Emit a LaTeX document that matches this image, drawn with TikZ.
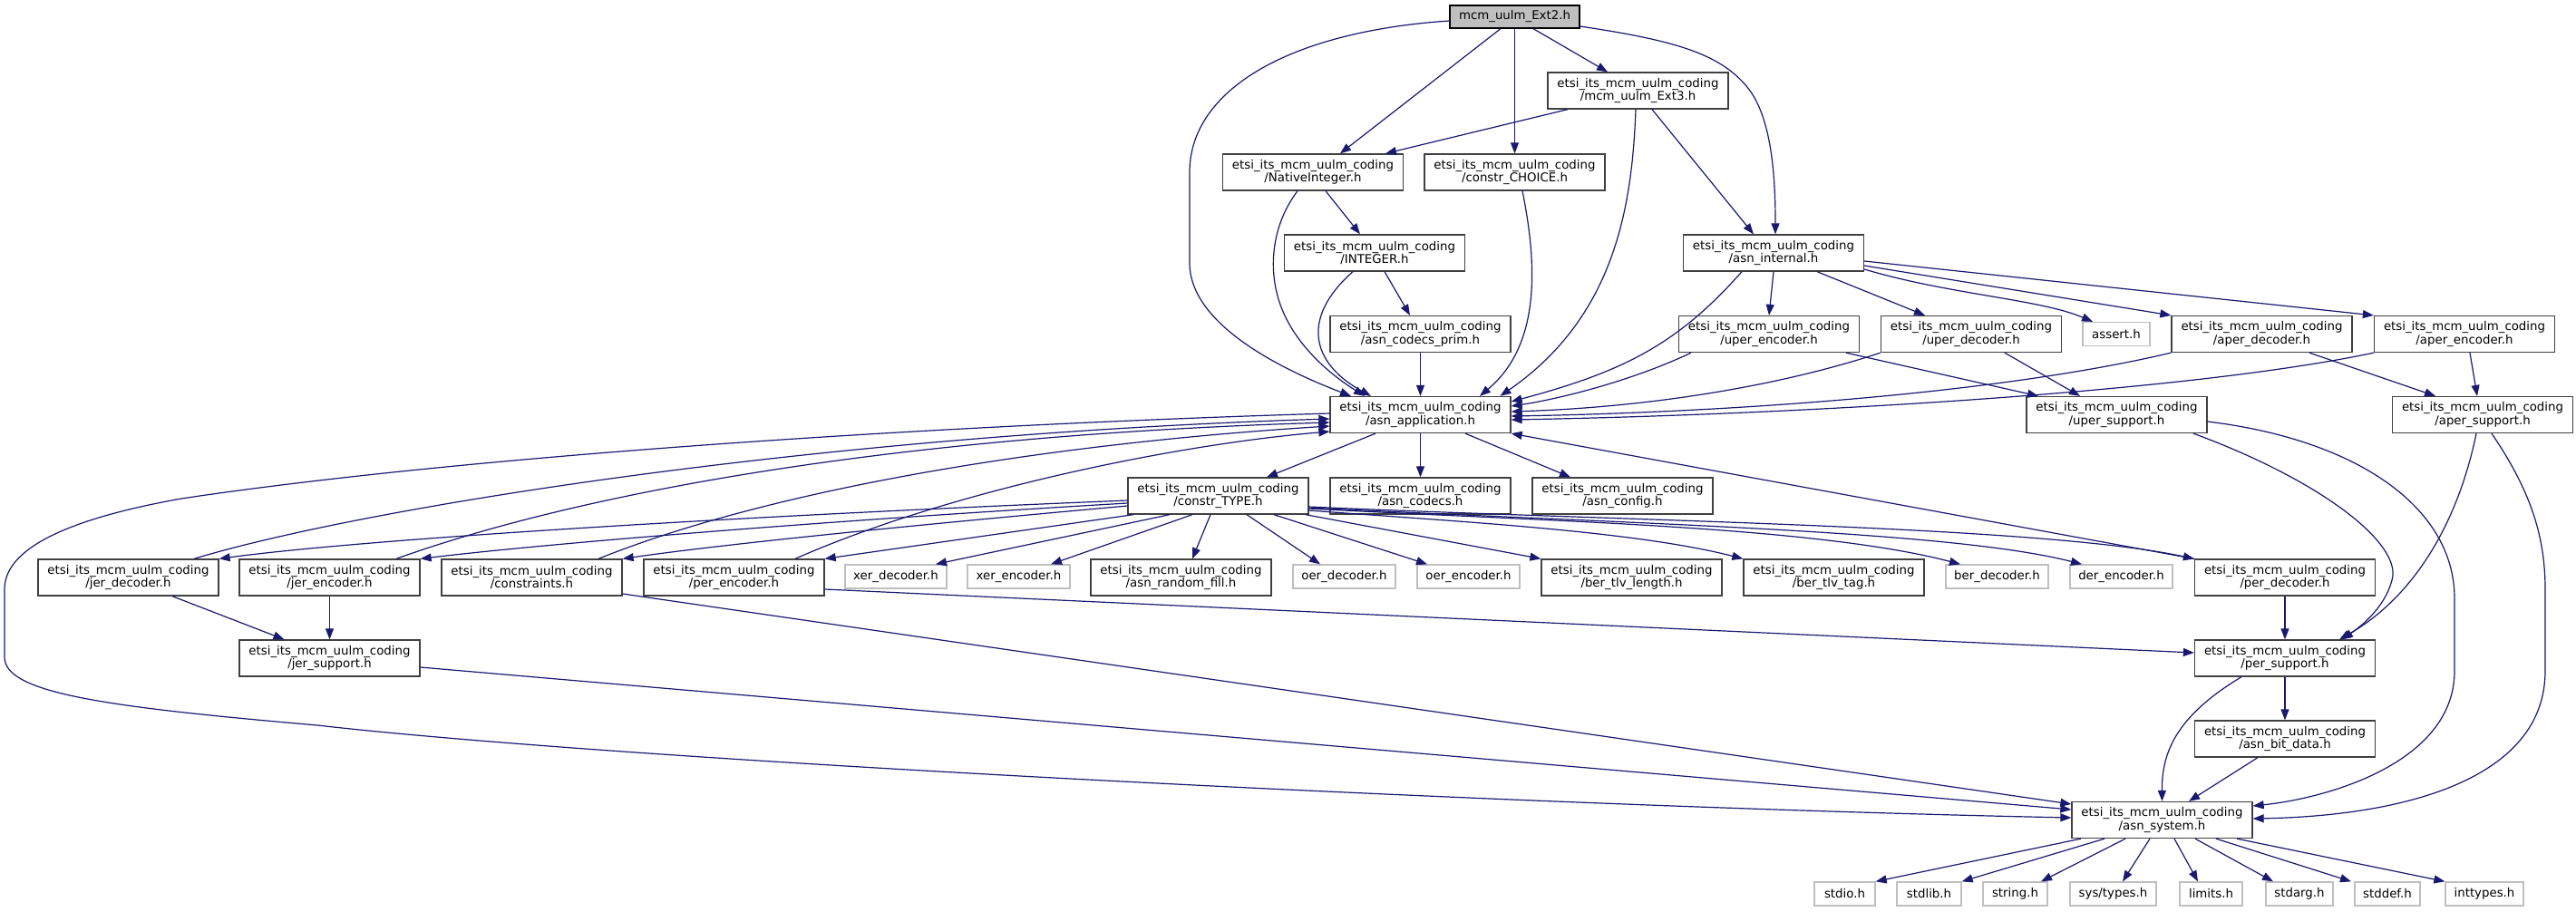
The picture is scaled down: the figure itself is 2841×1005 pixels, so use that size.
\documentclass[tikz,border=0pt]{standalone}
\usepackage{fontspec}
\setmainfont{DejaVu Sans}
\usetikzlibrary{arrows.meta}
\definecolor{edgec}{RGB}{25,25,112}
\definecolor{boxc}{RGB}{64,64,64}
\definecolor{lightc}{RGB}{191,191,191}
\begin{document}
\begin{tikzpicture}[x=1pt,y=-1pt,
  base/.style={rectangle, inner sep=0pt, align=center, font=\fontsize{13.33}{14.6}\selectfont, text=black},
  hbox/.style={base, draw=boxc, line width=1.3pt, minimum width=199pt, minimum height=40pt},
  sbox/.style={base, draw=lightc, line width=1.3pt, minimum height=26pt},
  rootbox/.style={base, draw=black, fill=lightc, line width=1.3pt, minimum width=143pt, minimum height=25pt},
  conn/.style={draw=edgec, line width=1.2pt, -{Triangle[length=12pt,width=9pt]}}]
\useasboundingbox (0,0) rectangle (2841,1005);
\fill[white] (0,0) rectangle (2841,1005);

% nodes
\node[rootbox] (ext2) at (1670.5,18.5) {mcm\_uulm\_Ext2.h};
\node[hbox] (ext3) at (1806.5,100) {etsi\_its\_mcm\_uulm\_coding\\/mcm\_uulm\_Ext3.h};
\node[hbox] (nint) at (1448,190) {etsi\_its\_mcm\_uulm\_coding\\/NativeInteger.h};
\node[hbox] (choice) at (1670.5,190) {etsi\_its\_mcm\_uulm\_coding\\/constr\_CHOICE.h};
\node[hbox] (integer) at (1516,279) {etsi\_its\_mcm\_uulm\_coding\\/INTEGER.h};
\node[hbox] (asninternal) at (1956,279) {etsi\_its\_mcm\_uulm\_coding\\/asn\_internal.h};
\node[hbox] (codecsprim) at (1566.5,368.5) {etsi\_its\_mcm\_uulm\_coding\\/asn\_codecs\_prim.h};
\node[hbox] (uperenc) at (1951,368.5) {etsi\_its\_mcm\_uulm\_coding\\/uper\_encoder.h};
\node[hbox] (uperdec) at (2174,368.5) {etsi\_its\_mcm\_uulm\_coding\\/uper\_decoder.h};
\node[sbox,minimum width=74pt] (assert) at (2334,368.5) {assert.h};
\node[hbox] (aperdec) at (2494.5,368.5) {etsi\_its\_mcm\_uulm\_coding\\/aper\_decoder.h};
\node[hbox] (aperenc) at (2718,368.5) {etsi\_its\_mcm\_uulm\_coding\\/aper\_encoder.h};
\node[hbox] (asnapp) at (1566.5,457.5) {etsi\_its\_mcm\_uulm\_coding\\/asn\_application.h};
\node[hbox] (upersup) at (2334.5,457.5) {etsi\_its\_mcm\_uulm\_coding\\/uper\_support.h};
\node[hbox] (apersup) at (2738,457.5) {etsi\_its\_mcm\_uulm\_coding\\/aper\_support.h};
\node[hbox] (constrtype) at (1343.5,547) {etsi\_its\_mcm\_uulm\_coding\\/constr\_TYPE.h};
\node[hbox] (asncodecs) at (1566.5,547) {etsi\_its\_mcm\_uulm\_coding\\/asn\_codecs.h};
\node[hbox] (asnconfig) at (1789.5,547) {etsi\_its\_mcm\_uulm\_coding\\/asn\_config.h};
\node[hbox] (jerdec) at (141.5,637) {etsi\_its\_mcm\_uulm\_coding\\/jer\_decoder.h};
\node[hbox] (jerenc) at (363.5,637) {etsi\_its\_mcm\_uulm\_coding\\/jer\_encoder.h};
\node[hbox] (constraints) at (586.5,637) {etsi\_its\_mcm\_uulm\_coding\\/constraints.h};
\node[hbox] (perenc) at (809.5,637) {etsi\_its\_mcm\_uulm\_coding\\/per\_encoder.h};
\node[sbox,minimum width=112pt] (xerdec) at (988,636) {xer\_decoder.h};
\node[sbox,minimum width=113pt] (xerenc) at (1123.5,636) {xer\_encoder.h};
\node[hbox] (randomfill) at (1302.5,637) {etsi\_its\_mcm\_uulm\_coding\\/asn\_random\_fill.h};
\node[sbox,minimum width=113pt] (oerdec) at (1482.5,636) {oer\_decoder.h};
\node[sbox,minimum width=113pt] (oerenc) at (1619.5,636) {oer\_encoder.h};
\node[hbox] (bertlvlen) at (1799.5,637) {etsi\_its\_mcm\_uulm\_coding\\/ber\_tlv\_length.h};
\node[hbox] (bertlvtag) at (2022.5,637) {etsi\_its\_mcm\_uulm\_coding\\/ber\_tlv\_tag.h};
\node[sbox,minimum width=113pt] (berdec) at (2202.5,636) {ber\_decoder.h};
\node[sbox,minimum width=113pt] (derenc) at (2339.5,636) {der\_encoder.h};
\node[hbox] (perdec) at (2520,637) {etsi\_its\_mcm\_uulm\_coding\\/per\_decoder.h};
\node[hbox] (jersup) at (363.5,726) {etsi\_its\_mcm\_uulm\_coding\\/jer\_support.h};
\node[hbox] (persup) at (2520,726) {etsi\_its\_mcm\_uulm\_coding\\/per\_support.h};
\node[hbox] (bitdata) at (2520,815) {etsi\_its\_mcm\_uulm\_coding\\/asn\_bit\_data.h};
\node[hbox] (asnsystem) at (2384.5,904.5) {etsi\_its\_mcm\_uulm\_coding\\/asn\_system.h};
\node[sbox,minimum width=67pt] (stdio) at (2034.5,986) {stdio.h};
\node[sbox,minimum width=71pt] (stdlib) at (2127.5,986) {stdlib.h};
\node[sbox,minimum width=71pt] (string) at (2222.5,986) {string.h};
\node[sbox,minimum width=95pt] (systypes) at (2330.5,986) {sys/types.h};
\node[sbox,minimum width=69pt] (limits) at (2438.5,986) {limits.h};
\node[sbox,minimum width=74pt] (stdarg) at (2536,986) {stdarg.h};
\node[sbox,minimum width=72pt] (stddef) at (2633,986) {stddef.h};
\node[sbox,minimum width=86pt] (inttypes) at (2740,986) {inttypes.h};

% Ext2
\draw[conn] ([yshift=-4.5pt]ext2.west) .. controls (1420,35) and (1312,100) .. (1312,190) -- (1312,290) .. controls (1312,360) and (1420,410) .. ([xshift=-76.5pt]asnapp.north);
\draw[conn] ([xshift=-15.5pt]ext2.south) -- ([xshift=30pt]nint.north);
\draw[conn] (ext2.south) -- (choice.north);
\draw[conn] ([xshift=20.5pt]ext2.south) -- ([xshift=-33.5pt]ext3.north);
\draw[conn] ([yshift=-10.5pt]ext2.east) .. controls (1850,45) and (1900,60) .. (1930,100) .. controls (1955,135) and (1958,200) .. ([xshift=2pt]asninternal.north);
% Ext3
\draw[conn] ([xshift=-77.5pt]ext3.south) -- ([xshift=80pt]nint.north);
\draw[conn] ([xshift=-2.5pt]ext3.south) .. controls (1800,230) and (1780,350) .. ([xshift=88pt]asnapp.north);
\draw[conn] ([xshift=15.5pt]ext3.south) -- ([xshift=-22pt]asninternal.north);
% NativeInteger
\draw[conn] ([xshift=14pt]nint.south) -- ([xshift=-16pt]integer.north);
\draw[conn] ([xshift=-17pt]nint.south) .. controls (1405,245) and (1398,290) .. (1410,330) .. controls (1425,380) and (1470,415) .. ([xshift=-61.5pt]asnapp.north);
% INTEGER
\draw[conn] ([xshift=11pt]integer.south) -- ([xshift=-11.5pt]codecsprim.north);
\draw[conn] ([xshift=-24pt]integer.south) .. controls (1435,350) and (1445,400) .. ([xshift=-54.5pt]asnapp.north);
% constr_CHOICE
\draw[conn] ([xshift=8.5pt]choice.south) .. controls (1695,290) and (1700,380) .. ([xshift=65.5pt]asnapp.north);
% asn_codecs_prim
\draw[conn] (codecsprim.south) -- (asnapp.north);
% asn_internal
\draw[conn] ([xshift=-35pt]asninternal.south) .. controls (1850,380) and (1790,410) .. ([yshift=14.5pt]asnapp.east);
\draw[conn] (asninternal.south) -- (uperenc.north);
\draw[conn] ([xshift=48pt]asninternal.south) -- ([xshift=-51pt]uperdec.north);
\draw[conn] ([yshift=-18pt]asninternal.east) .. controls (2150,325) and (2250,330) .. ([xshift=-26pt]assert.north);
\draw[conn] ([yshift=-14pt]asninternal.east) -- (aperdec.north west);
\draw[conn] ([yshift=-9pt]asninternal.east) -- (aperenc.north west);
% uper
\draw[conn] ([xshift=-86pt]uperenc.south) .. controls (1800,420) and (1720,440) .. ([yshift=9.5pt]asnapp.east);
\draw[conn] ([xshift=85pt]uperenc.south) -- ([xshift=-86.5pt]upersup.north);
\draw[conn] (uperdec.south west) .. controls (1950,430) and (1800,450) .. ([yshift=3.5pt]asnapp.east);
\draw[conn] ([xshift=37pt]uperdec.south) -- ([xshift=-40.5pt]upersup.north);
% aper
\draw[conn] (aperdec.south west) .. controls (2200,435) and (1900,455) .. ([yshift=-1.5pt]asnapp.east);
\draw[conn] ([xshift=52.5pt]aperdec.south) -- ([xshift=-52pt]apersup.north);
\draw[conn] (aperenc.south west) .. controls (2400,435) and (1950,458) .. ([yshift=-5.5pt]asnapp.east);
\draw[conn] ([xshift=6pt]aperenc.south) -- ([xshift=-6pt]apersup.north);
% asn_application
\draw[conn] ([xshift=-49.5pt]asnapp.south) -- ([xshift=53.5pt]constrtype.north);
\draw[conn] (asnapp.south) -- (asncodecs.north);
\draw[conn] ([xshift=49.5pt]asnapp.south) -- ([xshift=-57.5pt]asnconfig.north);
\draw[conn] ([yshift=1.5pt]asnapp.west) .. controls (1000,470) and (500,505) .. (200,550) .. controls (60,575) and (5,610) .. (5,650) -- (5,725) .. controls (5,765) and (120,780) .. (350,800) .. controls (700,840) and (1700,890) .. ([yshift=2.5pt]asnsystem.west);
% jer / constraints / per_encoder
\draw[conn] ([xshift=72.5pt]jerdec.north) .. controls (400,560) and (900,480) .. ([yshift=-4.5pt]asnapp.west);
\draw[conn] ([xshift=48.5pt]jerdec.south) -- ([xshift=-50pt]jersup.north);
\draw[conn] ([xshift=73.5pt]jerenc.north) .. controls (650,540) and (1000,480) .. ([yshift=-8.5pt]asnapp.west);
\draw[conn] (jerenc.south) -- (jersup.north);
\draw[conn] ([xshift=73.5pt]constraints.north) .. controls (850,540) and (1150,490) .. ([yshift=-12.5pt]asnapp.west);
\draw[conn] ([yshift=-18pt]constraints.east) -- ([yshift=17.5pt]asnsystem.west);
\draw[conn] ([xshift=67.5pt]perenc.north) .. controls (1050,540) and (1300,490) .. ([yshift=-18.5pt]asnapp.west);
\draw[conn] ([yshift=-13pt]perenc.east) -- ([yshift=6pt]persup.west);
\draw[conn] ([yshift=-10pt]jersup.east) -- ([yshift=11.5pt]asnsystem.west);
% constr_TYPE
\draw[conn] ([yshift=-5pt]constrtype.west) .. controls (800,570) and (400,595) .. (jerdec.north east);
\draw[conn] ([yshift=-8pt]constrtype.west) .. controls (900,575) and (600,600) .. (jerenc.north east);
\draw[conn] ([yshift=-11pt]constrtype.west) .. controls (1000,580) and (800,600) .. (constraints.north east);
\draw[conn] ([xshift=-93.5pt]constrtype.south) -- (perenc.north east);
\draw[conn] ([xshift=-53.5pt]constrtype.south) -- ([xshift=44pt]xerdec.north);
\draw[conn] ([xshift=-28.5pt]constrtype.south) -- ([xshift=35.5pt]xerenc.north);
\draw[conn] ([xshift=-8.5pt]constrtype.south) -- ([xshift=12.5pt]randomfill.north);
\draw[conn] ([xshift=31.5pt]constrtype.south) -- ([xshift=-26.5pt]oerdec.north);
\draw[conn] ([xshift=61.5pt]constrtype.south) -- ([xshift=-45.5pt]oerenc.north);
\draw[conn] ([xshift=96.5pt]constrtype.south) -- (bertlvlen.north west);
\draw[conn] ([yshift=-16pt]constrtype.east) .. controls (1600,575) and (1800,585) .. (bertlvtag.north west);
\draw[conn] ([yshift=-14pt]constrtype.east) .. controls (1700,575) and (2000,580) .. ([xshift=-40.5pt]berdec.north);
\draw[conn] ([yshift=-13pt]constrtype.east) .. controls (1800,578) and (2150,585) .. ([xshift=-43.5pt]derenc.north);
\draw[conn] ([yshift=-12pt]constrtype.east) .. controls (1800,575) and (2250,580) .. (perdec.north west);
% per_decoder
\draw[conn] (perdec.north west) -- (asnapp.south east);
\draw[conn] (perdec.south) -- (persup.north);
% per_support
\draw[conn] (persup.south) -- (bitdata.north);
\draw[conn] ([xshift=-48pt]persup.south) .. controls (2400,790) and (2384,830) .. (asnsystem.north);
\draw[conn] ([xshift=-30pt]bitdata.south) -- ([xshift=29.5pt]asnsystem.north);
% uper_support
\draw[conn] ([xshift=84.5pt]upersup.south) .. controls (2560,530) and (2650,600) .. (2638,640) .. controls (2630,670) and (2605,690) .. ([xshift=63pt]persup.north);
\draw[conn] ([yshift=-7.5pt]upersup.east) .. controls (2600,485) and (2707,560) .. (2707,660) -- (2707,740) .. controls (2707,840) and (2570,880) .. ([yshift=15.5pt]asnsystem.east);
% aper_support
\draw[conn] ([xshift=-7pt]apersup.south) .. controls (2710,580) and (2660,660) .. ([xshift=60pt]persup.north);
\draw[conn] ([xshift=10pt]apersup.south) .. controls (2790,540) and (2807,590) .. (2807,650) -- (2807,740) .. controls (2807,860) and (2650,900) .. ([yshift=1.5pt]asnsystem.east);
% asn_system
\draw[conn] ([xshift=-89.5pt]asnsystem.south) -- (stdio.north east);
\draw[conn] ([xshift=-63.5pt]asnsystem.south) -- (stdlib.north east);
\draw[conn] ([xshift=-40.5pt]asnsystem.south) -- ([xshift=28.5pt]string.north);
\draw[conn] ([xshift=-13.5pt]asnsystem.south) -- ([xshift=10.5pt]systypes.north);
\draw[conn] ([xshift=13.5pt]asnsystem.south) -- ([xshift=-14.5pt]limits.north);
\draw[conn] ([xshift=36.5pt]asnsystem.south) -- ([xshift=-29pt]stdarg.north);
\draw[conn] ([xshift=59.5pt]asnsystem.south) -- ([xshift=-40pt]stddef.north);
\draw[conn] ([xshift=82.5pt]asnsystem.south) -- (inttypes.north west);
\end{tikzpicture}
\end{document}
